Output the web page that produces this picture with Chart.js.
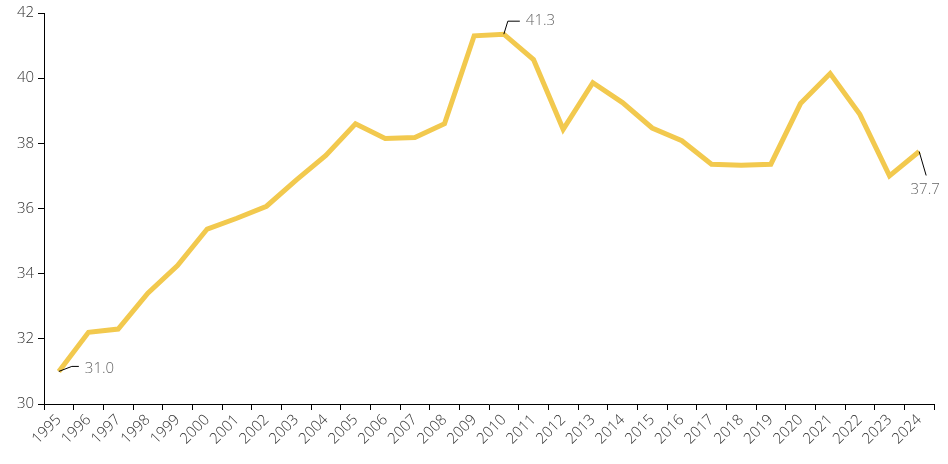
<!DOCTYPE html>
<html>
<head>
<meta charset="utf-8">
<script src="https://cdn.jsdelivr.net/npm/chart.js@4/dist/chart.umd.min.js"></script>
<style>
html,body{margin:0;padding:0;background:#fff;}
#wrap{width:948px;height:464px;}
</style>
</head>
<body>
<div id="wrap"><canvas id="c" width="948" height="464"></canvas></div>
<script>
const years = ["1995","1996","1997","1998","1999","2000","2001","2002","2003","2004","2005","2006","2007","2008","2009","2010","2011","2012","2013","2014","2015","2016","2017","2018","2019","2020","2021","2022","2023","2024"];
const values = [31.0,32.2,32.3,33.4,34.25,35.37,35.7,36.07,36.87,37.63,38.6,38.15,38.18,38.6,41.3,41.35,40.57,38.43,39.86,39.25,38.47,38.08,37.36,37.33,37.36,39.22,40.14,38.89,37.0,37.75];
const yTicks = [30,32,34,36,38,40,42];
const labelledPoints = [0, 15, 29];
const labelTexts = ["31.0","41.3","37.7"];

const FONT = "'Open Sans', sans-serif";

const annot = {
  id: 'annot',
  afterDatasetsDraw(chart) {
    const ctx = chart.ctx;
    const meta = chart.getDatasetMeta(0);
    ctx.save();
    ctx.strokeStyle = '#000';
    ctx.lineWidth = 1;
    ctx.fillStyle = '#666';
    ctx.font = "300 15px " + FONT;
    ctx.textBaseline = 'middle';
    labelledPoints.forEach((idx, k) => {
      const p = meta.data[idx];
      const x = p.x, y = p.y;
      ctx.beginPath();
      if (k === 0) {
        ctx.moveTo(x, y); ctx.lineTo(x + 13, y - 5); ctx.lineTo(x + 20, y - 5);
        ctx.stroke();
        ctx.textAlign = 'left';
        ctx.fillText(labelTexts[k], x + 26, y - 3);
      } else if (k === 1) {
        ctx.moveTo(x, y); ctx.lineTo(x + 4, y - 13); ctx.lineTo(x + 16, y - 13);
        ctx.stroke();
        ctx.textAlign = 'left';
        ctx.fillText(labelTexts[k], x + 22, y - 13);
      } else {
        ctx.moveTo(x, y); ctx.lineTo(x + 7, y + 24);
        ctx.stroke();
        ctx.textAlign = 'center';
        ctx.fillText(labelTexts[k], x + 6, y + 38);
      }
    });
    ctx.restore();
  }
};

new Chart(document.getElementById('c'), {
  type: 'line',
  data: {
    labels: years,
    datasets: [{
      data: values,
      borderColor: '#F2C94E',
      borderWidth: 5,
      pointRadius: 0,
      tension: 0,
      fill: false
    }]
  },
  options: {
    responsive: false,
    animation: false,
    layout: { padding: { top: 11, right: 14, left: 0, bottom: 0 } },
    plugins: { legend: { display: false }, tooltip: { enabled: false } },
    scales: {
      x: {
        offset: true,
        grid: { display: true, drawOnChartArea: false, offset: true, color: '#000', tickLength: 6, tickColor: '#000' },
        border: { display: true, color: '#000', width: 1 },
        ticks: { minRotation: 45, maxRotation: 45, autoSkip: false, color: '#333', padding: 1, font: { family: FONT, size: 15, weight: 300 } },
        afterFit(s) { s.height = 60; }
      },
      y: {
        min: 30, max: 42,
        afterBuildTicks(s) { s.ticks = yTicks.map(v => ({ value: v })); },
        grid: { display: true, drawOnChartArea: false, color: '#000', tickLength: 6, tickColor: '#000' },
        border: { display: true, color: '#000', width: 1 },
        ticks: { color: '#333', padding: 4, font: { family: FONT, size: 15, weight: 300 } },
        afterFit(s) { s.width = 44; }
      }
    }
  },
  plugins: [annot]
});
</script>
</body>
</html>
